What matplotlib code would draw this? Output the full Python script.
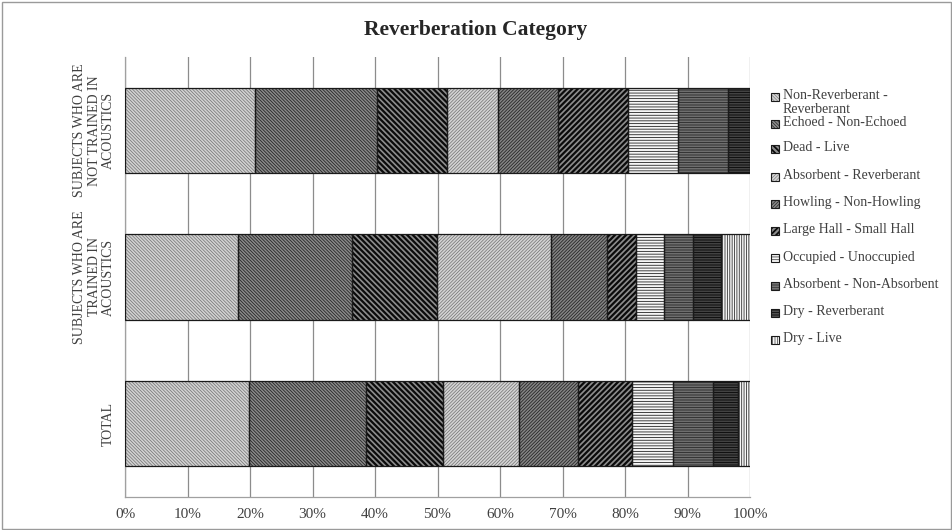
import matplotlib
matplotlib.use("Agg")
import matplotlib.pyplot as plt
from matplotlib.patches import Rectangle
import numpy as np

# Response shares (%) per group, one list per attribute pair
groups = ["TOTAL",
          "SUBJECTS WHO ARE\nTRAINED IN\nACOUSTICS",
          "SUBJECTS WHO ARE\nNOT TRAINED IN\nACOUSTICS"]

series_names = [
    "Non-Reverberant -\nReverberant",
    "Echoed - Non-Echoed",
    "Dead - Live",
    "Absorbent - Reverberant",
    "Howling - Non-Howling",
    "Large Hall - Small Hall",
    "Occupied - Unoccupied",
    "Absorbent - Non-Absorbent",
    "Dry - Reverberant",
    "Dry - Live",
]

# values ordered as [TOTAL, TRAINED, NOT TRAINED]
non_reverberant_reverberant = [19.8, 18.1, 20.8]
echoed_non_echoed = [18.8, 18.2, 19.5]
dead_live = [12.2, 13.6, 11.2]
absorbent_reverberant = [12.3, 18.2, 8.2]
howling_non_howling = [9.4, 9.0, 9.6]
large_hall_small_hall = [8.6, 4.7, 11.2]
occupied_unoccupied = [6.5, 4.5, 8.0]
absorbent_non_absorbent = [6.5, 4.5, 8.0]
dry_reverberant = [4.0, 4.6, 3.5]
dry_live = [1.9, 4.6, 0.0]

series_values = [
    non_reverberant_reverberant, echoed_non_echoed, dead_live,
    absorbent_reverberant, howling_non_howling, large_hall_small_hall,
    occupied_unoccupied, absorbent_non_absorbent, dry_reverberant, dry_live,
]

x_ticks = np.arange(0, 101, 10)
x_tick_labels = [f"{t}%" for t in x_ticks]

# fill colour, hatch colour, hatch pattern, hatch line width
styles = [
    ("#d2d2d2", "#707070", "\\" * 10, 0.5),
    ("#8a8a8a", "#262626", "\\" * 10, 0.6),
    ("#8c8c8c", "#0a0a0a", "\\" * 6, 1.6),
    ("#d4d4d4", "#707070", "/" * 10, 0.5),
    ("#858585", "#262626", "/" * 10, 0.6),
    ("#8c8c8c", "#0a0a0a", "/" * 6, 1.6),
    ("#f6f6f6", "#222222", "-" * 6, 0.6),
    ("#8a8a8a", "#333333", "-" * 10, 0.7),
    ("#6a6a6a", "#111111", "-" * 10, 0.8),
    ("#f6f6f6", "#333333", "|" * 7, 0.6),
]

plt.rcParams["font.family"] = ["Liberation Serif", "DejaVu Serif"]

fig = plt.figure(figsize=(9.52, 5.30), dpi=100)
ax = fig.add_axes([125 / 952, 1 - 497 / 530, 625 / 952, 440 / 530])

y = np.arange(len(groups))
left = np.zeros(len(groups))
for vals, (fc, hc, hatch, hlw) in zip(series_values, styles):
    vals = np.array(vals)
    with plt.rc_context({"hatch.linewidth": hlw}):
        ax.barh(y, vals, left=left, height=0.58, color=fc, edgecolor=hc,
                hatch=hatch, linewidth=0, zorder=2)
    ax.barh(y, vals, left=left, height=0.58, fill=False, edgecolor="#1a1a1a",
            linewidth=0.9, zorder=3)
    left += vals

ax.set_xlim(0, 100)
ax.set_ylim(-0.5, 2.5)
ax.set_xticks(x_ticks)
ax.set_xticklabels(x_tick_labels, fontsize=11, color="#404040")
ax.set_yticks(y)
ax.set_yticklabels(groups, rotation=90, va="center", ha="right",
                   multialignment="center", fontsize=10, color="#404040",
                   linespacing=1.15)
ax.tick_params(axis="both", length=0)
ax.tick_params(axis="y", pad=7)
ax.tick_params(axis="x", pad=8)
ax.grid(axis="x", color="#8c8c8c", linewidth=0.9, zorder=0)
ax.set_axisbelow(True)
for side in ["top", "right"]:
    ax.spines[side].set_visible(False)
for side in ["left", "bottom"]:
    ax.spines[side].set_color("#a0a0a0")
    ax.spines[side].set_linewidth(0.9)

fig.text(476 / 952, 1 - 30 / 530, "Reverberation Category", ha="center",
         va="center", fontsize=15.5, fontweight="bold", color="#262626")

# legend built from the series names and styles
leg_y = [96, 123, 148, 176, 203, 230, 258, 285, 312, 339]
W, H = 952, 530
for name, (fc, hc, hatch, hlw), ly in zip(series_names, styles, leg_y):
    with plt.rc_context({"hatch.linewidth": hlw * 0.8}):
        fig.patches.append(Rectangle((771 / W, 1 - (ly + 4.5) / H), 8 / W, 8 / H,
                                     transform=fig.transFigure, facecolor=fc,
                                     edgecolor=hc, hatch=hatch, linewidth=0))
    fig.patches.append(Rectangle((771 / W, 1 - (ly + 4.5) / H), 8 / W, 8 / H,
                                 transform=fig.transFigure, fill=False,
                                 edgecolor="#1a1a1a", linewidth=0.8))
    fig.text(783 / W, 1 - (ly - 7) / H, name, ha="left", va="top",
             fontsize=10, color="#404040", linespacing=1.08)

# chart border
fig.patches.append(Rectangle((1.5 / W, 1.5 / H), 1 - 3 / W, 1 - 3 / H,
                             transform=fig.transFigure, fill=False,
                             edgecolor="#9a9a9a", linewidth=1.0))

fig.savefig("out.png", dpi=100)
